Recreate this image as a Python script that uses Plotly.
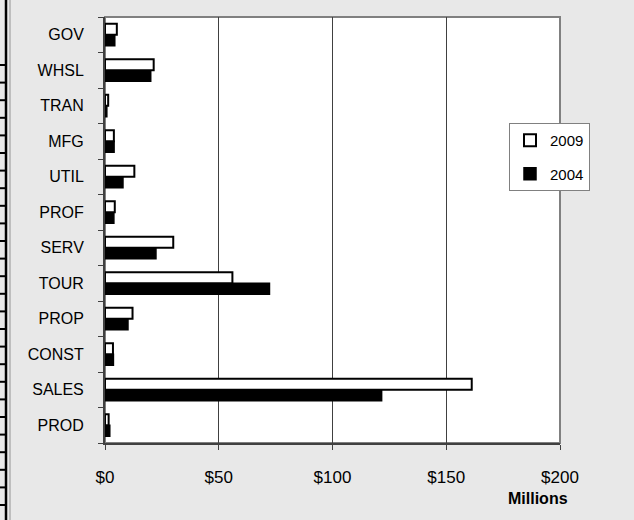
import plotly.graph_objects as go

categories = ["PROD", "SALES", "CONST", "PROP", "TOUR", "SERV", "PROF", "UTIL", "MFG", "TRAN", "WHSL", "GOV"]
values_2009 = [1.6, 161.2, 3.5, 12.1, 56.0, 30.0, 4.3, 12.9, 3.9, 1.4, 21.4, 5.2]
values_2004 = [2.1, 121.6, 3.7, 10.1, 72.3, 22.4, 3.9, 7.9, 4.0, 0.8, 20.1, 4.3]
x_tickvals = [0, 50, 100, 150, 200]
x_ticktext = ["$0", "$50", "$100", "$150", "$200"]

FONT = "Liberation Sans, Arial, sans-serif"

# plot area in pixels
L, R, T, B = 105, 560, 17, 443
PW, PH = R - L, B - T

def px_x(p):
    return (p - L) / PW

def px_y(p):
    return (B - p) / PH

fig = go.Figure()
fig.add_trace(go.Bar(
    y=categories, x=values_2004, name="2004", orientation="h",
    marker=dict(color="#000000", line=dict(color="#000000", width=1.5)),
    legendrank=2, legendgroup="g2004",
))
fig.add_trace(go.Bar(
    y=categories, x=values_2009, name="2009", orientation="h",
    marker=dict(color="#ffffff", line=dict(color="#000000", width=2)),
    legendrank=1, legendgroup="g2009",
))

shapes = [
    dict(type="rect", xref="paper", yref="paper", x0=0, x1=1, y0=0, y1=1,
         line=dict(color="#808080", width=2), layer="below"),
    # cropped neighbour frame at the far left
    dict(type="line", xref="paper", yref="paper", x0=px_x(6), x1=px_x(6), y0=px_y(520), y1=px_y(0),
         line=dict(color="#000000", width=2.5)),
    dict(type="line", xref="paper", yref="paper", x0=px_x(10), x1=px_x(10), y0=px_y(520), y1=px_y(0),
         line=dict(color="#b0b0b0", width=1.5)),
]
y_mark = 65.0
while y_mark < 520:
    shapes.append(dict(type="line", xref="paper", yref="paper",
                       x0=px_x(0), x1=px_x(6), y0=px_y(y_mark), y1=px_y(y_mark),
                       line=dict(color="#000000", width=2)))
    y_mark += 17.6

fig.update_layout(
    width=634, height=520,
    margin=dict(l=L, r=634 - R, t=T, b=520 - B),
    paper_bgcolor="#e8e8e8",
    plot_bgcolor="#ffffff",
    barmode="group",
    bargap=0.38,
    bargroupgap=0.0,
    font=dict(family=FONT, size=15, color="#000000"),
    showlegend=True,
    legend=dict(
        x=px_x(509), y=px_y(123), xanchor="left", yanchor="top",
        bgcolor="#ffffff", bordercolor="#808080", borderwidth=1,
        traceorder="grouped", tracegroupgap=11,
        font=dict(family=FONT, size=15),
        itemwidth=30,
    ),
    xaxis=dict(
        range=[0, 200], tickvals=x_tickvals, ticktext=x_ticktext,
        showgrid=True, gridcolor="#404040", gridwidth=1,
        zeroline=False,
        showline=True, linecolor="#404040", linewidth=2,
        ticks="outside", ticklen=5, tickcolor="#404040", tickwidth=1,
        tickfont=dict(family=FONT, size=17),
        ticklabelstandoff=13,
    ),
    yaxis=dict(
        type="category", categoryorder="array", categoryarray=categories,
        showgrid=False, zeroline=False,
        showline=True, linecolor="#404040", linewidth=2,
        ticks="outside", ticklen=5, tickcolor="#404040", tickwidth=1,
        tickson="boundaries",
        tickfont=dict(family=FONT, size=16),
        ticklabelstandoff=16,
    ),
    shapes=shapes,
    annotations=[
        dict(text="<b>Millions</b>", xref="paper", yref="paper",
             x=px_x(538), y=px_y(498), xanchor="center", yanchor="middle",
             showarrow=False, font=dict(family=FONT, size=16)),
    ],
)

fig.write_html("out.html", config={"displayModeBar": False},
               post_script="document.body.style.margin='0';")
